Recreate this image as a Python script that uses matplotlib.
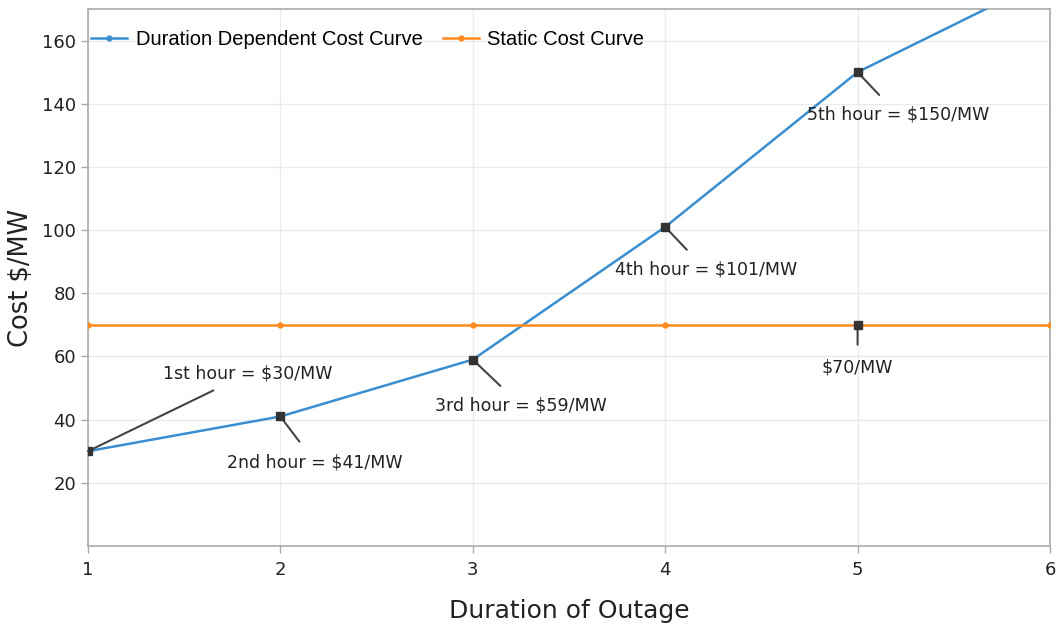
import matplotlib
matplotlib.use("Agg")
import matplotlib.pyplot as plt

hours = [1, 2, 3, 4, 5, 6]
dynamic_cost = [30, 41, 59, 101, 150, 180]
static_cost = [70, 70, 70, 70, 70, 70]

notes = ["1st hour = $30/MW", "2nd hour = $41/MW", "3rd hour = $59/MW",
         "4th hour = $101/MW", "5th hour = $150/MW"]
note_xy = [(1.83, 54.5), (2.18, 26.5), (3.25, 44.5), (4.21, 87.5), (5.21, 136.5)]
static_note = "$70/MW"
static_note_xy = (5.0, 56.5)

blue = '#3a8ed0'
orange = '#ff8b1f'
grey = '#444444'

fig = plt.figure(figsize=(10.56, 6.28), dpi=100)
ax = fig.add_axes([0.0833, 0.1306, 0.9110, 0.8551])

ax.plot(hours, dynamic_cost, '-o', color=blue, lw=1.8, ms=3.5,
        label='Duration Dependent Cost Curve', zorder=3)
ax.plot(hours, static_cost, '-o', color=orange, lw=1.8, ms=3.5,
        label='Static Cost Curve', zorder=3)

# black squares on annotated points
ax.plot(hours[:5], dynamic_cost[:5], 's', color='#333333', ms=6, zorder=4)
ax.plot([static_note_xy[0]], [static_cost[4]], 's', color='#333333', ms=6, zorder=4)

for i, txt in enumerate(notes):
    ax.annotate(txt, xy=(hours[i], dynamic_cost[i]), xytext=note_xy[i],
                ha='center', va='center', fontsize=12.5, color='#222222',
                arrowprops=dict(arrowstyle='-', color=grey, lw=1.5,
                                shrinkA=8, shrinkB=0))
ax.annotate(static_note, xy=(5, static_cost[4]), xytext=static_note_xy,
            ha='center', va='center', fontsize=12.5, color='#222222',
            arrowprops=dict(arrowstyle='-', color=grey, lw=1.5,
                            shrinkA=8, shrinkB=0))

ax.set_xlim(1, 6)
ax.set_ylim(0, 170)
ax.set_xticks(hours)
ax.set_yticks(range(20, 161, 20))
ax.grid(True, color='#ebebeb', lw=1)
ax.set_axisbelow(True)
for s in ax.spines.values():
    s.set_color('#aaaaaa')
    s.set_linewidth(1.2)
ax.tick_params(colors='#aaaaaa', labelcolor='#222222', labelsize=13,
               length=5, width=1)
ax.tick_params(axis='x', pad=6)

ax.set_xlabel('Duration of Outage', fontsize=18, labelpad=14, color='#222222')
ax.set_ylabel('Cost $/MW', fontsize=18.5, labelpad=6, color='#222222')

ax.legend(loc='upper left', ncol=2, frameon=False, bbox_to_anchor=(-0.005, 0.975),
          prop={'family': 'Liberation Sans', 'size': 14.5}, handlelength=1.8,
          handletextpad=0.4, columnspacing=1.0, borderaxespad=0)

fig.savefig('out.png', dpi=100)
